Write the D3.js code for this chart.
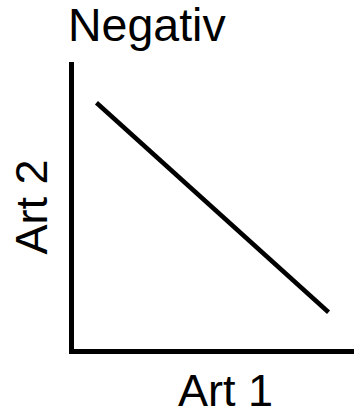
<!DOCTYPE html>
<html>
<head>
<meta charset="utf-8">
<script src="https://cdn.jsdelivr.net/npm/d3@7"></script>
<style>
  body { margin: 0; background: #fff; }
  text { font-family: "Liberation Sans", Arial, sans-serif; fill: #000; }
</style>
</head>
<body>
<div id="vis"></div>
<script>
// values
var title = "Negativ";
var xLabel = "Art 1";
var yLabel = "Art 2";
var art1 = [0.9, 9.1];
var art2 = [8.65, 1.35];

var theMargins = {
    top: 64,
    right: 0,
    bottom: 65,
    left: 71
};
var width = 354 - theMargins.left - theMargins.right;
var height = 416 - theMargins.top - theMargins.bottom;

var x = d3.scaleLinear()
    .domain([0, 10])
    .range([0, width]);

var y = d3.scaleLinear()
    .domain([0, 10])
    .range([height, 0]);

var xAxis = d3.axisBottom()
    .scale(x)
    .ticks(0)
    .tickSizeOuter(0);

var yAxis = d3.axisLeft()
    .scale(y)
    .ticks(0)
    .tickSizeOuter(0);

var chart = d3.select('#vis').append('svg')
    .attr("width", width + theMargins.left + theMargins.right)
    .attr("height", height + theMargins.top + theMargins.bottom);

var vis = chart.append('g')
    .attr("transform", "translate(" + theMargins.left + "," + theMargins.top + ")");

vis.append("g")
    .attr("class", "theXAxis")
    .attr("transform", "translate(0," + height + ")")
    .call(xAxis);

vis.append("g")
    .attr("class", "theYAxis")
    .call(yAxis);

vis.selectAll(".domain")
    .attr("stroke", "#000")
    .attr("stroke-width", 5)
    .attr("stroke-linecap", "square");

var pts = art1.map(function(d, i) { return [d, art2[i]]; });

vis.append("path")
    .datum(pts)
    .attr("fill", "none")
    .attr("stroke", "#000")
    .attr("stroke-width", 4.5)
    .attr("d", d3.line()
        .x(function(d) { return x(d[0]); })
        .y(function(d) { return y(d[1]); }));

// labels
chart.append("text")
    .attr("x", 68)
    .attr("y", 41)
    .style("font-size", "46.5px")
    .text(title);

chart.append("text")
    .attr("x", 178)
    .attr("y", 406)
    .style("font-size", "45px")
    .text(xLabel);

chart.append("text")
    .attr("transform", "translate(47,207) rotate(-90)")
    .attr("text-anchor", "middle")
    .style("font-size", "45px")
    .text(yLabel);
</script>
</body>
</html>
